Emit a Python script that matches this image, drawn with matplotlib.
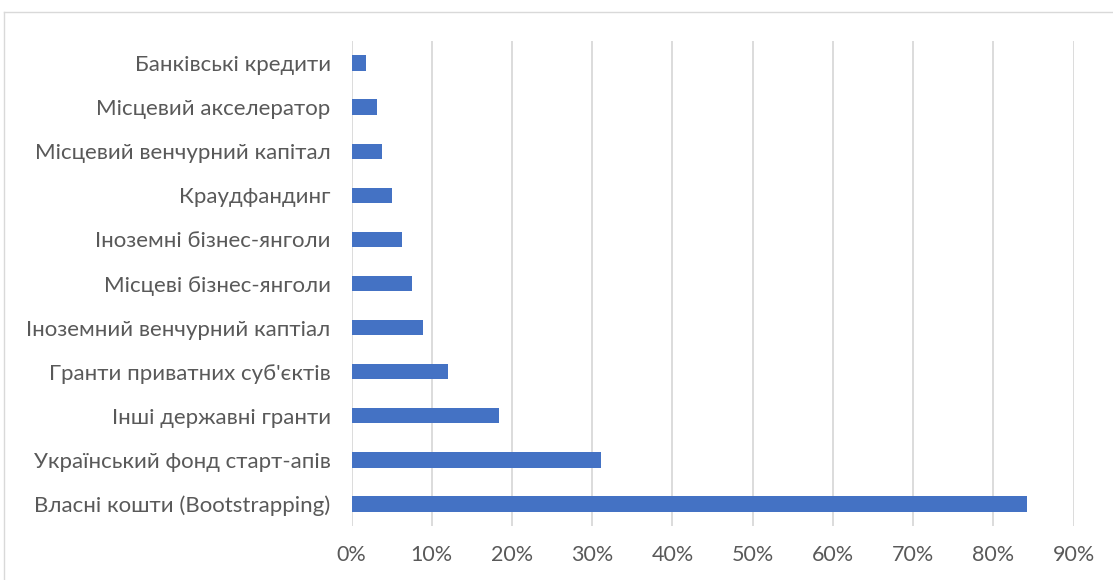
import matplotlib
matplotlib.use("Agg")
import matplotlib.pyplot as plt
from matplotlib.lines import Line2D
from matplotlib.ticker import FuncFormatter

# Funding sources for startups (share of respondents, %)
categories = [
    "Власні кошти (Bootstrapping)",
    "Український фонд старт-апів",
    "Інші державні гранти",
    "Гранти приватних суб'єктів",
    "Іноземний венчурний каптіал",
    "Місцеві бізнес-янголи",
    "Іноземні бізнес-янголи",
    "Краудфандинг",
    "Місцевий венчурний капітал",
    "Місцевий акселератор",
    "Банківські кредити",
]
values = [84.2, 31.1, 18.4, 12.0, 8.9, 7.6, 6.3, 5.1, 3.8, 3.15, 1.85]
x_ticks = [0, 10, 20, 30, 40, 50, 60, 70, 80, 90]

W, H = 1113, 580
plt.rcParams["font.family"] = ["Lato", "DejaVu Sans"]
fig = plt.figure(figsize=(W / 100, H / 100), dpi=100)

# axes placed in pixel terms
left, right, top, bottom = 351.5, 1073.5, 41, 526
ax = fig.add_axes([left / W, 1 - bottom / H, (right - left) / W, (bottom - top) / H])

y = list(range(len(categories)))
ax.barh(y, values, height=0.35, color="#4472C4", zorder=3)
ax.set_ylim(-0.5, len(categories) - 0.5)
ax.set_xlim(0, 90)
ax.set_yticks(y)
ax.set_yticklabels(categories, fontsize=16, color="#595959")
ax.set_xticks(x_ticks)
ax.xaxis.set_major_formatter(FuncFormatter(lambda v, p: f"{v:.0f}%"))
ax.tick_params(axis="x", labelsize=15.5, labelcolor="#595959", length=0, pad=14)
ax.tick_params(axis="y", length=0, pad=15)
ax.grid(axis="x", color="#D9D9D9", linewidth=1.3, zorder=0)
for s in ax.spines.values():
    s.set_visible(False)

# chart area border
fig.add_artist(Line2D([4 / W, 1], [1 - 12 / H, 1 - 12 / H], color="#D9D9D9", lw=1.0))
fig.add_artist(Line2D([4 / W, 4 / W], [0, 1 - 12 / H], color="#D9D9D9", lw=1.0))

fig.savefig("out.png", dpi=100, facecolor="white")
